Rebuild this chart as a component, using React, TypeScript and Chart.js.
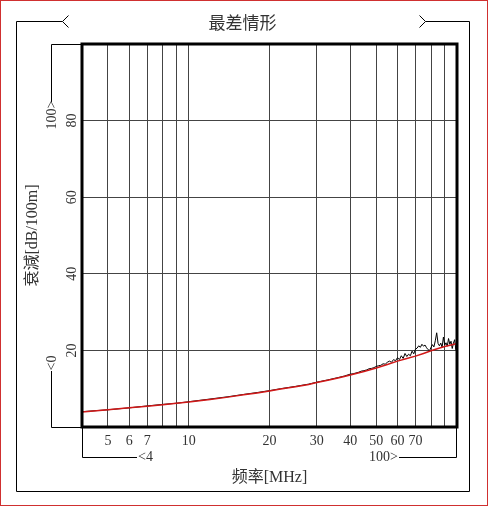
import React, { useEffect, useRef } from 'react';
import { Chart, registerables } from 'chart.js';
Chart.register(...registerables);

// ---- data ----
const FREQ_MODEL = [4, 5, 6, 7, 8, 9, 10, 12, 14, 16, 18, 20, 22, 25, 28, 30, 33, 36, 38, 40, 45, 50, 55, 60, 65, 70, 75, 80, 85, 90, 95, 100];
const ATT_MODEL = [3.9, 4.5, 5.0, 5.4, 5.8, 6.2, 6.5, 7.2, 7.8, 8.4, 8.9, 9.4, 9.9, 10.5, 11.1, 11.6, 12.2, 12.8, 13.2, 13.6, 14.5, 15.4, 16.3, 17.2, 17.9, 18.5, 19.2, 19.9, 20.5, 21.0, 21.4, 21.8];

const FREQ_MEAS = [4, 5, 6, 7, 8, 9, 10, 12, 14, 16, 18, 20, 22, 25, 28, 30, 33, 36, 38, 40, 41, 42, 43, 44, 45, 46, 47, 48, 49, 50, 51, 52, 53, 54, 55, 56, 57, 58, 59, 60, 61, 62, 63, 64, 65, 66, 67, 68, 69, 70, 71, 72, 73, 74, 75, 76, 77, 78, 79, 80, 81, 82, 83, 84, 85, 86, 87, 88, 89, 90, 91, 92, 93, 94, 95, 96, 97, 98, 99, 100];
const ATT_MEAS = [4.0, 4.5, 5.0, 5.5, 5.9, 6.2, 6.6, 7.3, 7.9, 8.5, 9.0, 9.5, 10.0, 10.6, 11.2, 11.7, 12.3, 12.9, 13.3, 13.8, 13.9, 14.1, 14.3, 14.6, 14.7, 14.9, 15.2, 15.3, 15.5, 15.8, 16.0, 16.1, 16.5, 16.4, 16.9, 17.2, 16.9, 17.6, 17.3, 18.1, 17.6, 18.6, 17.9, 19.2, 18.4, 19.0, 18.6, 19.8, 19.1, 20.3, 20.6, 21.2, 20.8, 21.6, 21.1, 21.4, 20.7, 20.2, 19.9, 20.8, 21.5, 20.9, 22.5, 24.6, 21.8, 21.2, 21.9, 20.8, 23.5, 21.4, 22.0, 21.1, 23.1, 21.6, 22.4, 20.5, 21.9, 22.8, 20.2, 21.5];

const X_TICKS = [4, 5, 6, 7, 8, 9, 10, 20, 30, 40, 50, 60, 70, 80, 90, 100];
const X_LABELS = [5, 6, 7, 10, 20, 30, 40, 50, 60, 70];
const Y_TICKS = [20, 40, 60, 80];

const TITLE = '最差情形';
const X_TITLE = '频率[MHz]';
const Y_TITLE = '衰減[dB/100m]';
const X_MIN_LABEL = '<4';
const X_MAX_LABEL = '100>';
const Y_MIN_LABEL = '<0';
const Y_MAX_LABEL = '100>';

const TEXT = '#333';
const SERIF = '"Liberation Serif", "Noto Sans CJK SC"';

const decor = {
  id: 'decor',
  afterDraw(chart: any) {
    const { ctx, chartArea: a, scales } = chart;
    const L = a.left, R = a.right, T = a.top, B = a.bottom;
    const W = chart.width, H = chart.height;
    ctx.save();
    // outer red border
    ctx.strokeStyle = '#d03030';
    ctx.lineWidth = 1;
    ctx.strokeRect(0.5, 0.5, W - 1, H - 1);

    ctx.strokeStyle = '#000';
    ctx.beginPath();
    // frame
    ctx.moveTo(62.5, 21.5); ctx.lineTo(16.5, 21.5); ctx.lineTo(16.5, 491.5);
    ctx.lineTo(469.5, 491.5); ctx.lineTo(469.5, 21.5); ctx.lineTo(425.5, 21.5);
    // chevrons
    ctx.moveTo(68.5, 15.5); ctx.lineTo(62.5, 21.5); ctx.lineTo(68.5, 27.5);
    ctx.moveTo(419.5, 15.5); ctx.lineTo(425.5, 21.5); ctx.lineTo(419.5, 27.5);
    // y brackets
    ctx.moveTo(L, T + 0.5); ctx.lineTo(51.5, T + 0.5); ctx.lineTo(51.5, 102);
    ctx.moveTo(L, B + 0.5); ctx.lineTo(51.5, B + 0.5); ctx.lineTo(51.5, 371);
    // x brackets
    ctx.moveTo(L + 0.5, B); ctx.lineTo(L + 0.5, 457.5); ctx.lineTo(137, 457.5);
    ctx.moveTo(R - 0.5, B); ctx.lineTo(R - 0.5, 457.5); ctx.lineTo(399, 457.5);
    ctx.stroke();

    // thick plot border
    ctx.lineWidth = 3;
    ctx.strokeRect(L, T, R - L, B - T);

    ctx.fillStyle = TEXT;
    ctx.textAlign = 'center';
    ctx.textBaseline = 'middle';
    // title
    ctx.font = '17px "Noto Sans CJK SC"';
    ctx.fillText(TITLE, 242.5, 23);
    // x title
    ctx.font = '16px ' + SERIF;
    ctx.fillText(X_TITLE, (L + R) / 2, 478);
    // y title
    ctx.save();
    ctx.translate(33, (T + B) / 2);
    ctx.rotate(-Math.PI / 2);
    ctx.fillText(Y_TITLE, 0, 0);
    ctx.restore();

    // y tick labels
    ctx.font = '14px ' + SERIF;
    const ys = scales.y;
    for (const v of Y_TICKS) {
      ctx.save();
      ctx.translate(72, ys.getPixelForValue(v));
      ctx.rotate(-Math.PI / 2);
      ctx.fillText(String(v), 0, 0);
      ctx.restore();
    }
    ctx.save();
    ctx.translate(52, 115);
    ctx.rotate(-Math.PI / 2);
    ctx.fillText(Y_MAX_LABEL, 0, 0);
    ctx.restore();
    ctx.save();
    ctx.translate(52, 363);
    ctx.rotate(-Math.PI / 2);
    ctx.fillText(Y_MIN_LABEL, 0, 0);
    ctx.restore();

    // x range labels
    ctx.textAlign = 'left';
    ctx.fillText(X_MIN_LABEL, 138, 457);
    ctx.textAlign = 'right';
    ctx.fillText(X_MAX_LABEL, 398, 457);
    ctx.restore();
  },
};

export default function App() {
  const ref = useRef<HTMLCanvasElement | null>(null);
  useEffect(() => {
    document.body.style.margin = '0';
    const canvas = ref.current!;
    const chart = new Chart(canvas, {
      type: 'line',
      data: {
        datasets: [
          {
            label: 'model',
            data: FREQ_MODEL.map((f, i) => ({ x: f, y: ATT_MODEL[i] })),
            borderColor: '#d01818',
            borderWidth: 1.5,
            pointRadius: 0,
            tension: 0,
            order: 0,
          },
          {
            label: 'measured',
            data: FREQ_MEAS.map((f, i) => ({ x: f, y: ATT_MEAS[i] })),
            borderColor: '#000',
            borderWidth: 1,
            pointRadius: 0,
            tension: 0,
            order: 1,
          },
        ],
      },
      options: {
        animation: false,
        responsive: false,
        devicePixelRatio: 1,
        layout: { padding: { left: 0, right: 31, top: 44, bottom: 0 } },
        plugins: { legend: { display: false }, title: { display: false }, tooltip: { enabled: false } },
        scales: {
          x: {
            type: 'logarithmic',
            min: 4,
            max: 100,
            afterBuildTicks: (axis: any) => {
              axis.ticks = X_TICKS.map((v) => ({ value: v }));
            },
            afterFit: (s: any) => {
              s.height = 79;
            },
            ticks: {
              autoSkip: false,
              maxRotation: 0,
              minRotation: 0,
              padding: 6,
              color: TEXT,
              font: { family: SERIF, size: 14 },
              callback: (v: any) => (X_LABELS.includes(Number(v)) ? String(v) : ''),
            },
            grid: { color: '#444', lineWidth: 1, drawTicks: false },
            border: { display: false },
          },
          y: {
            type: 'linear',
            min: 0,
            max: 100,
            afterBuildTicks: (axis: any) => {
              axis.ticks = [0, ...Y_TICKS, 100].map((v) => ({ value: v }));
            },
            afterFit: (s: any) => {
              s.width = 82;
            },
            ticks: { display: false },
            grid: { color: '#444', lineWidth: 1, drawTicks: false },
            border: { display: false },
          },
        },
      },
      plugins: [decor],
    });
    return () => chart.destroy();
  }, []);
  return <canvas ref={ref} width={488} height={506} style={{ display: 'block', width: 488, height: 506 }} />;
}
